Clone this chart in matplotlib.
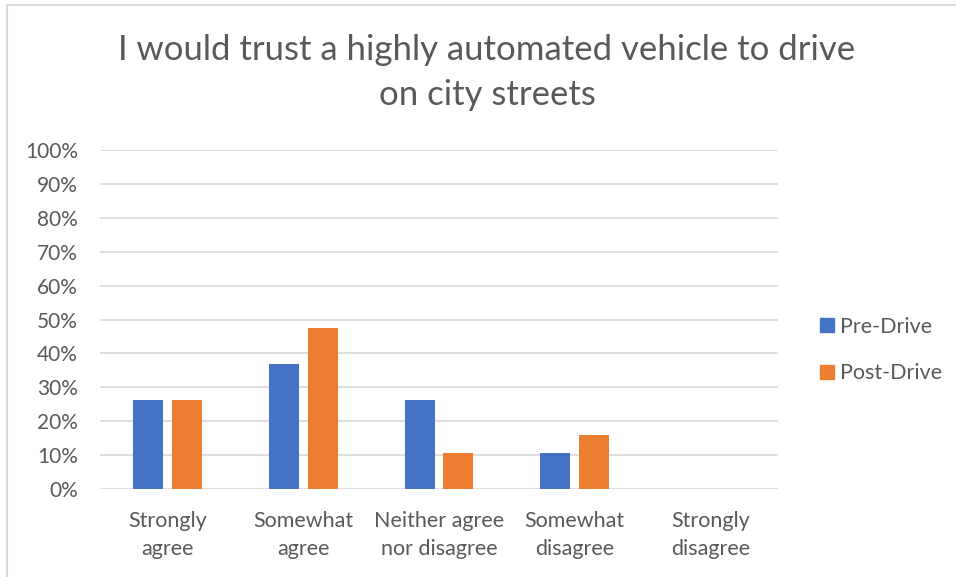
import numpy as np
import matplotlib.pyplot as plt
from matplotlib.lines import Line2D

plt.rcParams['font.family'] = ['Lato', 'DejaVu Sans']

categories = ['Strongly\nagree', 'Somewhat\nagree', 'Neither agree\nnor disagree',
              'Somewhat\ndisagree', 'Strongly\ndisagree']
pre_drive = [0.263, 0.368, 0.263, 0.105, 0.0]
post_drive = [0.263, 0.474, 0.105, 0.158, 0.0]
series_names = ['Pre-Drive', 'Post-Drive']
yticks = np.arange(0, 1.01, 0.1)
ytick_labels = ['%d%%' % round(v * 100) for v in yticks]

blue = '#4472c4'
orange = '#ed7d31'
text_gray = '#595959'

fig = plt.figure(figsize=(9.56, 5.77), dpi=100)
ax = fig.add_axes([100/956, 1 - 489/577, 678/956, 339/577])

x = np.arange(len(categories))
w = 0.22
ax.bar(x - 0.143, pre_drive, w, color=blue, label=series_names[0], zorder=3)
ax.bar(x + 0.143, post_drive, w, color=orange, label=series_names[1], zorder=3)

ax.set_xlim(-0.5, len(categories) - 0.5)
ax.set_ylim(0, 1)
ax.set_yticks(yticks)
ax.set_yticklabels(ytick_labels, fontsize=15, color=text_gray)
ax.set_xticks(x)
ax.set_xticklabels(categories, fontsize=15.5, color=text_gray, linespacing=1.5)
ax.tick_params(axis='y', length=0, pad=16)
ax.tick_params(axis='x', length=0, pad=16)
ax.grid(axis='y', color='#d9d9d9', linewidth=1.2, zorder=0)
for s in ax.spines.values():
    s.set_visible(False)

fig.text(487/956, 1 - 72/577, 'I would trust a highly automated vehicle to drive\non city streets',
         ha='center', va='center', fontsize=25, color=text_gray, linespacing=1.5)

handles = [Line2D([], [], marker='s', linestyle='', markersize=10, color=c)
           for c in (blue, orange)]
fig.legend(handles, series_names, loc='center left', bbox_to_anchor=(797/956, 1 - 350/577),
           frameon=False, fontsize=15.5, labelcolor=text_gray, handletextpad=0.1,
           labelspacing=1.25, handlelength=1.0)

# chart border
fig.add_artist(Line2D([7/956, 7/956], [0, 1 - 5/577], color='#d9d9d9', lw=1.5,
                      transform=fig.transFigure))
fig.add_artist(Line2D([7/956, 1], [1 - 5/577, 1 - 5/577], color='#d9d9d9', lw=1.5,
                      transform=fig.transFigure))

fig.savefig('out.png', dpi=100)
